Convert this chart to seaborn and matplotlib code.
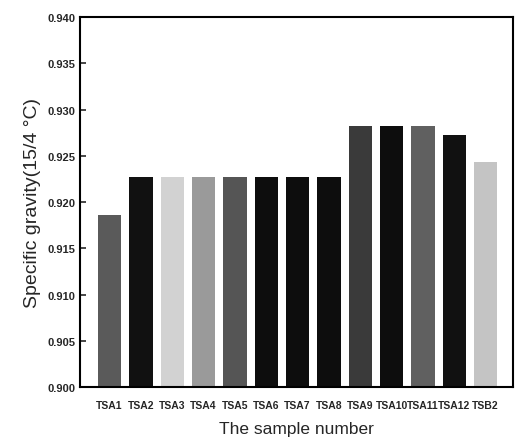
import pandas as pd
import numpy as np
import seaborn as sns
import matplotlib.pyplot as plt

# data
samples = ["TSA1", "TSA2", "TSA3", "TSA4", "TSA5", "TSA6", "TSA7",
           "TSA8", "TSA9", "TSA10", "TSA11", "TSA12", "TSB2"]
gravity = [0.9186, 0.9227, 0.9227, 0.9227, 0.9227, 0.9227, 0.9227,
           0.9227, 0.9282, 0.9282, 0.9282, 0.9272, 0.9243]
shades = ["#5a5a5a", "#111111", "#d2d2d2", "#9a9a9a", "#555555", "#0d0d0d", "#0d0d0d",
          "#0d0d0d", "#3a3a3a", "#0d0d0d", "#606060", "#111111", "#c4c4c4"]

df = pd.DataFrame({"sample": samples, "gravity": gravity})

sns.set_style("ticks")
plt.rcParams['font.family'] = ['Liberation Sans', 'DejaVu Sans']

fig = plt.figure(figsize=(5.15, 4.39), dpi=100)
ax = fig.add_axes([0.155, 0.116, 0.841, 0.843])

sns.barplot(data=df, x="sample", y="gravity", hue="sample",
            palette=shades, legend=False, width=0.74, ax=ax,
            edgecolor="none", saturation=1)

ax.set_ylim(0.900, 0.940)
ax.set_xlim(-0.95, 12.87)
ax.set_yticks(np.arange(0.900, 0.9401, 0.005))
ax.set_yticklabels([f"{v:.3f}" for v in np.arange(0.900, 0.9401, 0.005)],
                   fontsize=8, fontweight="bold")
ax.set_xticks(range(len(samples)))
ax.set_xticklabels(samples, fontsize=7.5, fontweight="bold")
ax.tick_params(axis="y", direction="in", length=4, width=1.2, pad=3)
ax.tick_params(axis="x", direction="in", length=3, width=1, pad=9)

for s in ax.spines.values():
    s.set_linewidth(1.5)
    s.set_color("black")

ax.set_xlabel("The sample number", fontsize=12.5, labelpad=8)
ax.set_ylabel("Specific gravity(15/4 °C)", fontsize=14, labelpad=5)

fig.savefig("out.png", dpi=100)
